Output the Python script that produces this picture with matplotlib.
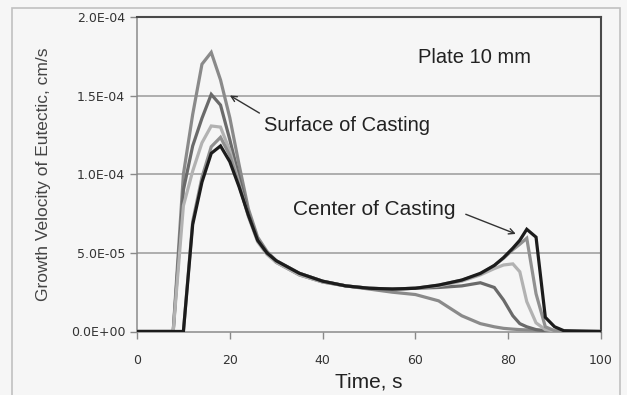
import numpy as np
import matplotlib
matplotlib.use("Agg")
import matplotlib.pyplot as plt
from matplotlib.patches import Rectangle

# -----------------------------------------------------------
# Data (units of 1E-04 cm/s)
# -----------------------------------------------------------
time_s = [0, 7.8, 10, 12, 14, 16, 18, 20, 22, 24, 26, 28, 30, 35, 40, 45,
          50, 55, 60, 65, 70, 74, 77, 79, 81, 82.5, 84, 86, 88, 90, 92, 100]

# surface -> center
curve_a = [0, 0, 1.00, 1.38, 1.70, 1.775, 1.60, 1.36, 1.06, 0.78, 0.60, 0.51, 0.45,
           0.37, 0.32, 0.29, 0.27, 0.25, 0.235, 0.195, 0.10, 0.05, 0.03, 0.02,
           0.015, 0.012, 0.01, 0.008, 0.004, 0, 0, 0]
curve_b = [0, 0, 0.90, 1.18, 1.356, 1.508, 1.44, 1.22, 0.98, 0.75, 0.58, 0.50, 0.44,
           0.36, 0.315, 0.29, 0.275, 0.27, 0.275, 0.28, 0.29, 0.31, 0.28, 0.20,
           0.10, 0.05, 0.03, 0.012, 0.005, 0, 0, 0]
curve_c = [0, 0, 0.80, 1.02, 1.20, 1.307, 1.30, 1.15, 0.94, 0.73, 0.57, 0.49, 0.44,
           0.36, 0.315, 0.29, 0.275, 0.27, 0.275, 0.29, 0.32, 0.36, 0.40, 0.423,
           0.43, 0.38, 0.19, 0.055, 0.012, 0.003, 0, 0]
curve_d = [0, 0, 0, 0.70, 0.98, 1.175, 1.235, 1.12, 0.93, 0.74, 0.58, 0.50, 0.45,
           0.37, 0.32, 0.29, 0.275, 0.27, 0.275, 0.295, 0.327, 0.365, 0.42, 0.466,
           0.52, 0.555, 0.593, 0.24, 0.03, 0.005, 0, 0]
curve_e = [0, 0, 0, 0.68, 0.95, 1.133, 1.18, 1.08, 0.92, 0.74, 0.58, 0.50, 0.45,
           0.37, 0.32, 0.29, 0.275, 0.27, 0.275, 0.295, 0.327, 0.37, 0.42, 0.47,
           0.53, 0.58, 0.65, 0.60, 0.09, 0.03, 0.005, 0]

curves = [curve_a, curve_b, curve_c, curve_d, curve_e]
colors = ["#8a8a8a", "#6a6a6a", "#b2b2b2", "#909090", "#1c1c1c"]

y_ticks = [0, 0.5e-4, 1.0e-4, 1.5e-4, 2.0e-4]
y_tick_labels = ["0.0E+00", "5.0E-05", "1.0E-04", "1.5E-04", "2.0E-04"]
x_ticks = [0, 20, 40, 60, 80, 100]

bg = "#f6f6f6"

fig = plt.figure(figsize=(6.27, 3.95), dpi=100, facecolor=bg)
ax = fig.add_axes([137 / 627, 1 - 331.5 / 395, 464 / 627, 314.5 / 395])
ax.set_facecolor(bg)

# outer chart frame
fig.patches.append(Rectangle((12 / 627, -0.01), 608 / 627, 1 - 8 / 395 + 0.01,
                             transform=fig.transFigure, fill=False,
                             edgecolor="#c0c0c0", linewidth=1.2))

for ys in y_ticks[1:-1]:
    ax.axhline(ys, color="#9a9a9a", linewidth=1.1, zorder=1)

for vals, col in zip(curves, colors):
    ax.plot(time_s, np.array(vals) * 1e-4, color=col, linewidth=2.3,
            solid_joinstyle="miter", zorder=3)

ax.set_xlim(0, 100)
ax.set_ylim(0, 2.0e-4)
ax.set_xticks(x_ticks)
ax.set_yticks(y_ticks)
ax.set_yticklabels(y_tick_labels)
ax.tick_params(axis="both", direction="out", length=5, width=1,
               color="#888888", labelsize=9, labelcolor="#333333")
ax.tick_params(axis="x", pad=11)

for side in ["left", "bottom"]:
    ax.spines[side].set_color("#8a8a8a")
    ax.spines[side].set_linewidth(1.1)
for side in ["top", "right"]:
    ax.spines[side].set_color("#4a4a4a")
    ax.spines[side].set_linewidth(1.5)

ax.set_xlabel("Time, s", fontsize=15, family="Liberation Sans",
              color="#222222", labelpad=4)
ax.set_ylabel("Growth Velocity of Eutectic, cm/s", fontsize=12.5,
              family="Liberation Sans", color="#444444", labelpad=14)

ax.text(60.5, 1.74e-4, "Plate 10 mm", fontsize=14.5, family="Liberation Sans",
        color="#222222", ha="left", va="center")

ax.text(27.3, 1.313e-4, "Surface of Casting", fontsize=14.5,
        family="Liberation Sans", color="#222222", ha="left", va="center")
ax.annotate("", xy=(19.5, 1.51e-4), xytext=(26.9, 1.38e-4),
            arrowprops=dict(arrowstyle="->", color="#333333", lw=1))

ax.text(33.7, 0.773e-4, "Center of Casting", fontsize=15,
        family="Liberation Sans", color="#222222", ha="left", va="center")
ax.annotate("", xy=(82.2, 0.614e-4), xytext=(70.3, 0.752e-4),
            arrowprops=dict(arrowstyle="->", color="#333333", lw=1))

fig.savefig("out.png", dpi=100, facecolor=bg)
